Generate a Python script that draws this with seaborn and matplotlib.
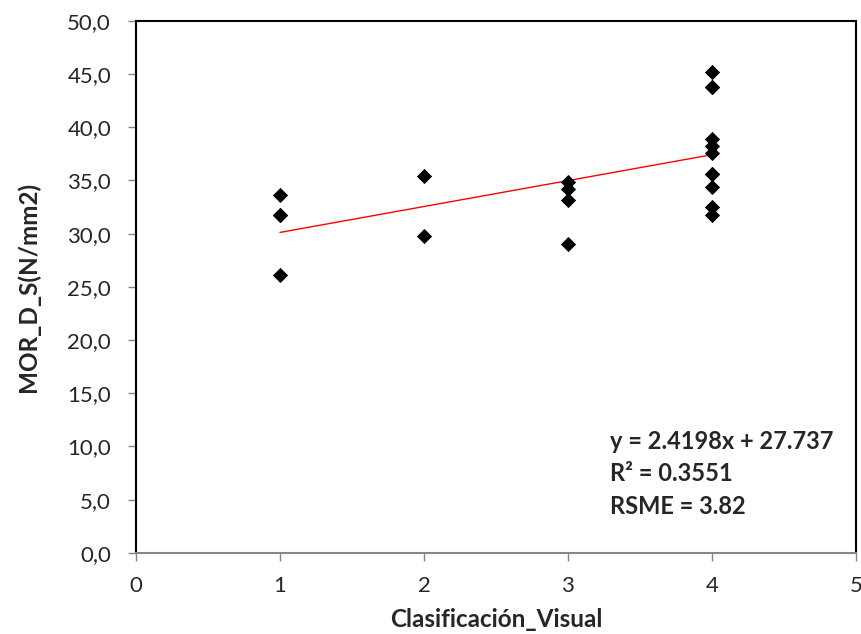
import numpy as np
import pandas as pd
import matplotlib
matplotlib.use("Agg")
import matplotlib.pyplot as plt
import seaborn as sns

# data (some points sit exactly on top of each other)
clase = [1, 1, 1, 1,
         2, 2,
         3, 3, 3, 3,
         4, 4, 4, 4, 4, 4, 4, 4, 4, 4, 4]
mor = [33.6, 31.8, 31.8, 26.1,
       35.4, 29.8,
       34.9, 34.2, 33.2, 29.0,
       45.2, 43.8, 43.8, 38.9, 38.2, 37.6, 35.6, 35.6, 34.4, 32.5, 31.8]
eq_lines = ["y = 2.4198x + 27.737", "R² = 0.3551", "RSME = 3.82"]

df = pd.DataFrame({"Clasificación_Visual": clase, "MOR_D_S(N/mm2)": mor})

sns.set_style("white")
plt.rcParams["font.family"] = ["Lato", "DejaVu Sans"]

fig = plt.figure(figsize=(8.61, 6.34), dpi=100)
ax = fig.add_axes([0.158, 0.128, 0.836, 0.839])

# trend line fitted on the points
sns.regplot(data=df, x="Clasificación_Visual", y="MOR_D_S(N/mm2)", scatter=False,
            ci=None, truncate=True, ax=ax, line_kws={"color": "red", "lw": 1})
sns.scatterplot(data=df, x="Clasificación_Visual", y="MOR_D_S(N/mm2)", marker="D",
                s=60, color="black", edgecolor="black", linewidth=0, ax=ax, zorder=3)

ax.set_xlim(0, 5)
ax.set_ylim(0, 50)
ax.set_xticks(range(0, 6))
yt = np.arange(0, 50.1, 5)
ax.set_yticks(yt)
ax.set_yticklabels([f"{v:.1f}".replace(".", ",") for v in yt])

for s in ["top", "right", "left"]:
    ax.spines[s].set_color("black")
    ax.spines[s].set_linewidth(1.5)
ax.spines["bottom"].set_color("#868686")
ax.spines["bottom"].set_linewidth(1.5)
ax.tick_params(axis="both", direction="out", length=6, width=1, color="#868686",
               labelsize=16)
ax.tick_params(axis="y", left=True, pad=12)
ax.tick_params(axis="x", bottom=True, pad=11)

ax.set_xlabel("Clasificación_Visual", fontsize=17.5, fontweight="bold", labelpad=8)
ax.set_ylabel("MOR_D_S(N/mm2)", fontsize=17.5, fontweight="bold", labelpad=20)

for i, t in enumerate(eq_lines):
    ax.text(3.29, 10.5 - 3.05 * i, t, fontsize=17, fontweight="bold", va="center", ha="left")

fig.savefig("out.png", dpi=100)
